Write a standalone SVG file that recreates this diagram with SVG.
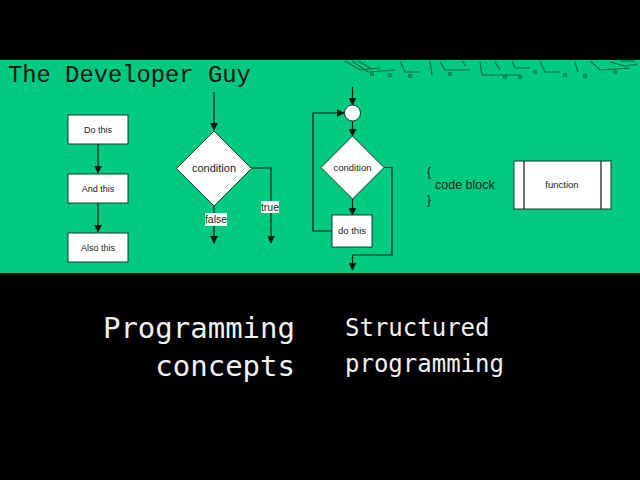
<svg xmlns="http://www.w3.org/2000/svg" width="640" height="480" viewBox="0 0 640 480">
<defs>
<style>
.box{fill:#fff;stroke:#1a3a2a;stroke-width:1}
.ln{fill:none;stroke:#0a1a12;stroke-width:1.2}
.t{font-family:"Liberation Sans",Arial,sans-serif;fill:#222;text-anchor:middle}
.lbl{fill:#fff}
.big{font-family:"DejaVu Sans Mono","Liberation Mono",monospace;fill:#f2f2f2}
.pcb{fill:none;stroke:#0a6a42;stroke-width:1.2}
</style>
<marker id="ah" viewBox="0 0 10 10" refX="9" refY="5" markerWidth="8" markerHeight="8" markerUnits="userSpaceOnUse" orient="auto">
<path d="M0,0 L10,5 L0,10 z" fill="#0a1a12"/>
</marker>
</defs>
<rect width="640" height="480" fill="#000"/>
<rect x="0" y="60" width="640" height="213" fill="#00c982"/>
<g id="pcb-decoration">
<path class="pcb" d="M345,61 L360,70 L380,68 M352,61 L368,72 L395,70 M358,61 L372,69 M400,61 L405,72 L420,72 M430,61 L432,75 M440,62 L445,70 L470,70 M462,61 L466,66 M480,62 L482,75 L520,75 M495,62 L500,70 M512,61 L515,68 L530,68 M540,61 L545,72 L560,72 M575,62 L578,72 M590,61 L600,70 L630,68 M610,62 L625,66 L638,64 M620,61 L635,61"/>
<circle class="pcb" cx="372" cy="74" r="1.5"/><circle class="pcb" cx="390" cy="75" r="1.5"/><circle class="pcb" cx="410" cy="76" r="1.5"/><circle class="pcb" cx="450" cy="74" r="1.5"/><circle class="pcb" cx="505" cy="77" r="1.5"/><circle class="pcb" cx="520" cy="77" r="1.5"/><circle class="pcb" cx="535" cy="72" r="1.5"/><circle class="pcb" cx="565" cy="75" r="1.5"/><circle class="pcb" cx="585" cy="76" r="1.5"/><circle class="pcb" cx="615" cy="72" r="1.5"/>
</g>
<text x="8" y="82" font-family="'Liberation Mono','DejaVu Sans Mono',monospace" font-size="23.8" fill="#111">The Developer Guy</text>
<g id="connectors">
<line class="ln" x1="98" y1="144" x2="98" y2="173" marker-end="url(#ah)"/>
<line class="ln" x1="98" y1="203" x2="98" y2="232" marker-end="url(#ah)"/>
<line class="ln" x1="214" y1="92" x2="214" y2="130" marker-end="url(#ah)"/>
<line class="ln" x1="214" y1="206" x2="214" y2="243" marker-end="url(#ah)"/>
<polyline class="ln" points="251,168 271,168 271,243" marker-end="url(#ah)"/>
<line class="ln" x1="352.5" y1="87" x2="352.5" y2="105" marker-end="url(#ah)"/>
<line class="ln" x1="352.5" y1="121" x2="352.5" y2="136" marker-end="url(#ah)"/>
<line class="ln" x1="352.5" y1="199" x2="352.5" y2="215" marker-end="url(#ah)"/>
<polyline class="ln" points="332,231 313,231 313,113 344,113" marker-end="url(#ah)"/>
<polyline class="ln" points="384,167.5 392,167.5 392,255 352.5,255 352.5,270" marker-end="url(#ah)"/>
<rect class="lbl" x="205" y="213" width="22" height="13"/>
<text class="t" x="216" y="223" font-size="10.5">false</text>
<rect class="lbl" x="261" y="201" width="18" height="12"/>
<text class="t" x="270" y="211" font-size="10.5">true</text>
</g>
<g id="do-this"><rect class="box" x="68" y="115" width="60" height="29"/><text class="t" x="98" y="133" font-size="9">Do this</text></g>
<g id="and-this"><rect class="box" x="68" y="174" width="60" height="29"/><text class="t" x="98" y="192" font-size="9">And this</text></g>
<g id="also-this"><rect class="box" x="68" y="233" width="60" height="29"/><text class="t" x="98" y="251" font-size="9">Also this</text></g>
<g id="condition1"><polygon class="box" points="214,131 251.5,168.5 214,206 176.5,168.5"/><text class="t" x="214" y="172" font-size="11">condition</text></g>
<g id="junction"><circle class="box" cx="352.5" cy="113" r="8"/></g>
<g id="condition2"><polygon class="box" points="352.5,136 384,167.5 352.5,199 321,167.5"/><text class="t" x="352.5" y="171" font-size="9.5">condition</text></g>
<g id="do-this-loop"><rect class="box" x="332" y="215" width="40" height="32"/><text class="t" x="352" y="234" font-size="9.5">do this</text></g>
<g id="code-block">
<text x="427" y="176" font-family="'Liberation Sans',Arial,sans-serif" font-size="12" fill="#222">{</text>
<text x="435" y="189" font-family="'Liberation Sans',Arial,sans-serif" font-size="12.5" fill="#222">code block</text>
<text x="427" y="204" font-family="'Liberation Sans',Arial,sans-serif" font-size="12" fill="#222">}</text>
</g>
<g id="function"><rect class="box" x="514" y="161" width="97" height="48"/><line class="ln" x1="524" y1="161" x2="524" y2="209" stroke="#555"/><line class="ln" x1="601" y1="161" x2="601" y2="209" stroke="#555"/><text class="t" x="562" y="188" font-size="9.5">function</text></g>
<text class="big" x="295" y="338" font-size="29" text-anchor="end">Programming</text>
<text class="big" x="295" y="376" font-size="29" text-anchor="end">concepts</text>
<text class="big" x="345" y="336" font-size="24">Structured</text>
<text class="big" x="345" y="372" font-size="24">programming</text>
</svg>
